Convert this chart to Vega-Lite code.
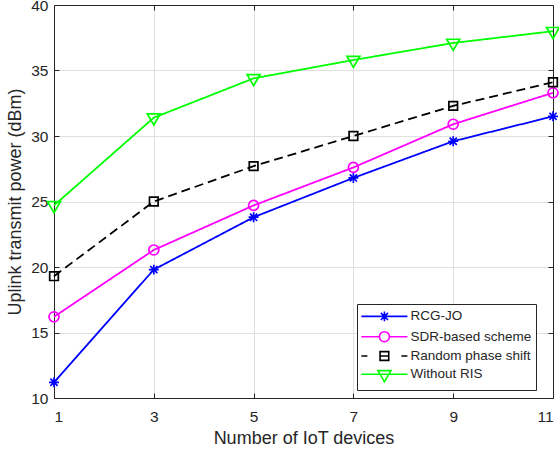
{
  "$schema": "https://vega.github.io/schema/vega-lite/v6.json",
  "width": 499,
  "height": 393,
  "autosize": {"type": "none"},
  "padding": {"left": 54, "top": 5, "right": 6, "bottom": 55},
  "background": "white",
  "config": {
    "font": "Liberation Sans",
    "view": {"stroke": null},
    "axis": {
      "domainColor": "#262626",
      "domainWidth": 1,
      "tickColor": "#262626",
      "tickWidth": 1,
      "labelColor": "#262626",
      "titleColor": "#262626",
      "labelFontSize": 15.5,
      "titleFontSize": 18,
      "titleFontWeight": "normal",
      "gridColor": "#dfdfdf",
      "gridWidth": 1
    },
    "legend": {
      "title": null,
      "orient": "none",
      "legendX": 303,
      "legendY": 299,
      "padding": 4.4,
      "strokeColor": "#262626",
      "strokeWidth": 1,
      "fillColor": "white",
      "labelFontSize": 13.5,
      "labelColor": "#262626",
      "labelOffset": 18,
      "symbolOffset": 15,
      "symbolSize": 196,
      "symbolStrokeWidth": 1.6,
      "symbolOpacity": 1,
      "rowPadding": 2.3
    }
  },
  "data": {
    "values": [
      {"n": 1, "series": "RCG-JO", "power": 11.2},
      {"n": 3, "series": "RCG-JO", "power": 19.8},
      {"n": 5, "series": "RCG-JO", "power": 23.8},
      {"n": 7, "series": "RCG-JO", "power": 26.8},
      {"n": 9, "series": "RCG-JO", "power": 29.6},
      {"n": 11, "series": "RCG-JO", "power": 31.5},
      {"n": 1, "series": "SDR-based scheme", "power": 16.2},
      {"n": 3, "series": "SDR-based scheme", "power": 21.3},
      {"n": 5, "series": "SDR-based scheme", "power": 24.7},
      {"n": 7, "series": "SDR-based scheme", "power": 27.6},
      {"n": 9, "series": "SDR-based scheme", "power": 30.9},
      {"n": 11, "series": "SDR-based scheme", "power": 33.3},
      {"n": 1, "series": "Random phase shift", "power": 19.3},
      {"n": 3, "series": "Random phase shift", "power": 25.0},
      {"n": 5, "series": "Random phase shift", "power": 27.7},
      {"n": 7, "series": "Random phase shift", "power": 30.0},
      {"n": 9, "series": "Random phase shift", "power": 32.3},
      {"n": 11, "series": "Random phase shift", "power": 34.1},
      {"n": 1, "series": "Without RIS", "power": 24.7},
      {"n": 3, "series": "Without RIS", "power": 31.4},
      {"n": 5, "series": "Without RIS", "power": 34.4},
      {"n": 7, "series": "Without RIS", "power": 35.8},
      {"n": 9, "series": "Without RIS", "power": 37.1},
      {"n": 11, "series": "Without RIS", "power": 38.0}
    ]
  },
  "resolve": {
    "axis": {"x": "independent", "y": "independent"},
    "scale": {"shape": "independent", "color": "independent"},
    "legend": {"shape": "independent", "color": "independent"}
  },
  "layer": [
    {
      "mark": {"type": "line", "strokeWidth": 1.8},
      "encoding": {
        "x": {
          "field": "n", "type": "quantitative",
          "scale": {"domain": [1, 11], "nice": false, "zero": false},
          "axis": {
            "orient": "bottom",
            "values": [1, 3, 5, 7, 9, 11],
            "grid": true,
            "tickSize": -5,
            "labelPadding": 16,
            "title": "Number of IoT devices",
            "titleY": 40,
            "titleBaseline": "middle"
          }
        },
        "y": {
          "field": "power", "type": "quantitative",
          "scale": {"domain": [10, 40], "nice": false, "zero": false},
          "axis": {
            "orient": "left",
            "values": [10, 15, 20, 25, 30, 35, 40],
            "grid": true,
            "tickSize": -5,
            "labelPadding": 11,
            "title": "Uplink transmit power (dBm)",
            "titleX": -39,
            "titleBaseline": "middle"
          }
        },
        "color": {
          "field": "series", "type": "nominal",
          "scale": {
            "domain": ["RCG-JO", "SDR-based scheme", "Random phase shift", "Without RIS"],
            "range": ["#0000ff", "#ff00ff", "#000000", "#00ff00"]
          },
          "legend": null
        },
        "strokeDash": {
          "condition": {"test": "datum.series === 'Random phase shift'", "value": [9, 5]},
          "value": [1, 0]
        }
      }
    },
    {
      "mark": {"type": "point", "filled": false, "size": 144, "strokeWidth": 1.7, "opacity": 1},
      "encoding": {
        "x": {
          "field": "n", "type": "quantitative",
          "scale": {"domain": [1, 11], "nice": false, "zero": false},
          "axis": {
            "orient": "top",
            "values": [1, 3, 5, 7, 9, 11],
            "grid": false,
            "labels": false,
            "tickSize": -5,
            "title": null
          }
        },
        "y": {
          "field": "power", "type": "quantitative",
          "scale": {"domain": [10, 40], "nice": false, "zero": false},
          "axis": {
            "orient": "right",
            "values": [10, 15, 20, 25, 30, 35, 40],
            "grid": false,
            "labels": false,
            "tickSize": -5,
            "title": null
          }
        },
        "color": {
          "field": "series", "type": "nominal",
          "scale": {
            "domain": ["RCG-JO", "SDR-based scheme", "Random phase shift", "Without RIS"],
            "range": ["#0000ff", "#ff00ff", "#000000", "#00ff00"]
          },
          "legend": null
        },
        "shape": {
          "field": "series", "type": "nominal",
          "scale": {
            "domain": ["RCG-JO", "SDR-based scheme", "Random phase shift", "Without RIS"],
            "range": [
              "M-0.83,0L0.83,0M0,-0.83L0,0.83M-0.6,-0.6L0.6,0.6M-0.6,0.6L0.6,-0.6",
              "M0.83,0A0.83,0.83,0,1,1,-0.83,0A0.83,0.83,0,1,1,0.83,0Z",
              "M-0.72,-0.72L0.72,-0.72L0.72,0.72L-0.72,0.72Z",
              "M-1.08,-0.62L1.08,-0.62L0,1.22Z"
            ]
          },
          "legend": null
        }
      }
    },
    {
      "transform": [{"filter": "datum.n > 100"}],
      "mark": {"type": "point", "filled": false, "size": 196, "strokeWidth": 1.6},
      "encoding": {
        "x": {"field": "n", "type": "quantitative", "axis": null},
        "y": {"field": "power", "type": "quantitative", "axis": null},
        "color": {
          "field": "series", "type": "nominal",
          "scale": {
            "domain": ["RCG-JO", "SDR-based scheme", "Random phase shift", "Without RIS"],
            "range": ["#0000ff", "#ff00ff", "#000000", "#00ff00"]
          },
          "legend": {}
        },
        "shape": {
          "field": "series", "type": "nominal",
          "scale": {
            "domain": ["RCG-JO", "SDR-based scheme", "Random phase shift", "Without RIS"],
            "range": [
              "M-3.29,0L3.29,0M-0.71,0L0.71,0M0,-0.71L0,0.71M-0.51,-0.51L0.51,0.51M-0.51,0.51L0.51,-0.51",
              "M-3.29,0L-0.71,0M0.71,0L3.29,0M0.71,0A0.71,0.71,0,1,1,-0.71,0A0.71,0.71,0,1,1,0.71,0Z",
              "M-3.29,0L-2.43,0M2.43,0L3.29,0M-0.62,0L0.62,0M-0.62,-0.62L0.62,-0.62L0.62,0.62L-0.62,0.62Z",
              "M-3.29,0L3.29,0M-0.93,-0.53L0.93,-0.53L0,1.04Z"
            ]
          },
          "legend": {}
        }
      }
    }
  ]
}
